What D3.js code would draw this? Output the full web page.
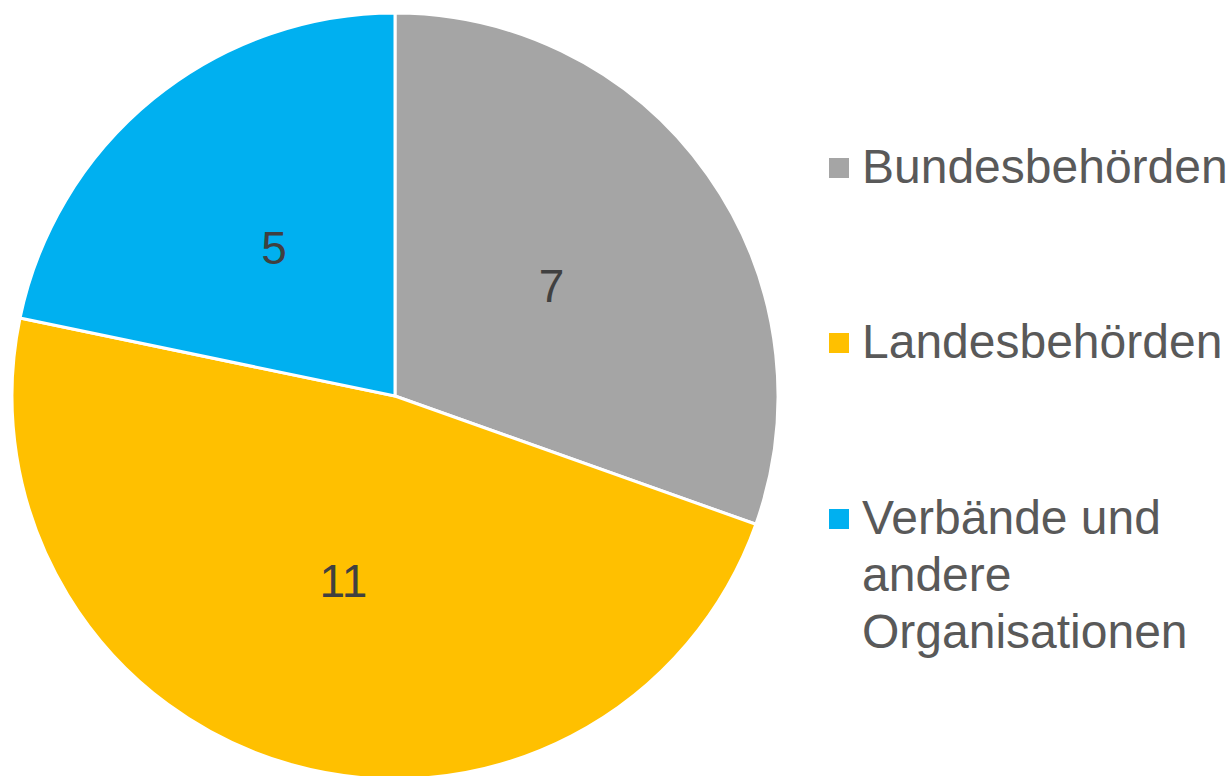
<!DOCTYPE html>
<html>
<head>
<meta charset="utf-8">
<script src="https://cdn.jsdelivr.net/npm/d3@7"></script>
<style>
html,body{margin:0;padding:0;background:#fff;}
svg{display:block;}
</style>
</head>
<body>
<svg id="chart" width="1229" height="776"></svg>
<script>
const categories = ["Bundesbehörden", "Landesbehörden", "Verbände und andere Organisationen"];
const values = [7, 11, 5];
const colors = ["#A5A5A5", "#FFC000", "#00B0F0"];
const legendLines = [["Bundesbehörden"], ["Landesbehörden"], ["Verbände und", "andere", "Organisationen"]];

const svg = d3.select("#chart");
const cx = 395, cy = 396, r = 383;
const font = "'Liberation Sans', Arial, sans-serif";

const data = categories.map((c, i) => ({ name: c, value: values[i], color: colors[i] }));
const pie = d3.pie().value(d => d.value).sort(null);
const arc = d3.arc().innerRadius(0).outerRadius(r);
const labelArc = d3.arc().innerRadius(r * 0.5).outerRadius(r * 0.5);

const g = svg.append("g").attr("transform", `translate(${cx},${cy})`);
const arcs = pie(data);
g.selectAll("path").data(arcs).join("path")
  .attr("d", arc)
  .attr("fill", d => d.data.color)
  .attr("stroke", "#fff")
  .attr("stroke-width", 3)
  .attr("stroke-linejoin", "round");

g.selectAll("text.lbl").data(arcs).join("text")
  .attr("class", "lbl")
  .attr("transform", d => { const [x, y] = labelArc.centroid(d); return `translate(${x},${y})`; })
  .attr("text-anchor", "middle")
  .attr("dy", "0.35em")
  .attr("font-family", font)
  .attr("font-size", 46)
  .attr("fill", "#404040")
  .text(d => d.data.value);

// legend
const legendY = [168, 343, 519];
const lg = svg.append("g");
data.forEach((d, i) => {
  lg.append("rect")
    .attr("x", 829).attr("y", legendY[i] - 10)
    .attr("width", 20).attr("height", 20)
    .attr("fill", d.color);
  const t = lg.append("text")
    .attr("x", 862).attr("y", legendY[i] + 15)
    .attr("font-family", font)
    .attr("font-size", 48)
    .attr("fill", "#595959");
  legendLines[i].forEach((line, j) => {
    t.append("tspan").attr("x", 862).attr("dy", j === 0 ? 0 : 57).text(line);
  });
});
</script>
</body>
</html>
